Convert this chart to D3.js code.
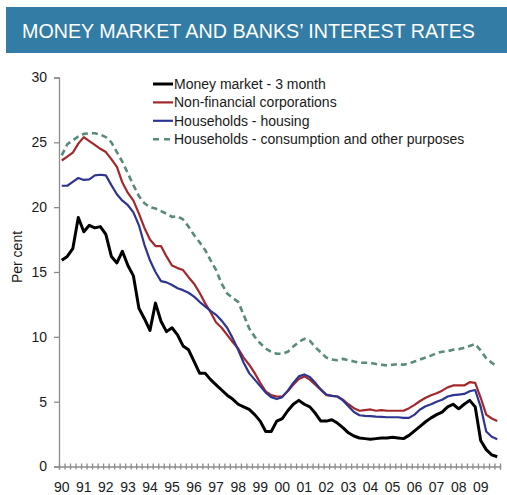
<!DOCTYPE html>
<html>
<head>
<meta charset="utf-8">
<script src="https://cdn.jsdelivr.net/npm/d3@7/dist/d3.min.js"></script>
<style>
  html, body { margin: 0; padding: 0; background: #fff; }
  svg { display: block; font-family: "Liberation Sans", Arial, sans-serif; }
</style>
</head>
<body>
<svg id="chart" width="507" height="495"></svg>
<script>
// Quarterly interest rates, 1990 Q1 – 2009 Q4 (per cent)
const yearLabels = ["90","91","92","93","94","95","96","97","98","99",
                    "00","01","02","03","04","05","06","07","08","09"];
const quarters = yearLabels.flatMap(y => ["Q1","Q2","Q3","Q4"].map(q => y + q));

const moneyMarket = [
  15.9, 16.2, 16.8, 19.2, 18.1, 18.6, 18.4, 18.5, 17.9, 16.2,
  15.7, 16.6, 15.5, 14.7, 12.2, 11.4, 10.5, 12.6, 11.2, 10.4,
  10.7, 10.15, 9.3, 9.0, 8.1, 7.2, 7.2, 6.7, 6.3, 5.9,
  5.5, 5.2, 4.8, 4.6, 4.4, 4.0, 3.5, 2.7, 2.7, 3.5,
  3.7, 4.3, 4.8, 5.1, 4.8, 4.6, 4.1, 3.5, 3.5, 3.6,
  3.35, 3.0, 2.6, 2.35, 2.2, 2.15, 2.1, 2.15, 2.2, 2.2,
  2.25, 2.2, 2.15, 2.4, 2.75, 3.1, 3.45, 3.75, 4.0, 4.2,
  4.6, 4.8, 4.45, 4.8, 5.1, 4.6, 2.0, 1.3, 0.9, 0.75
];
const nonFinancial = [
  23.6, 23.9, 24.2, 24.9, 25.4, 25.1, 24.8, 24.5, 24.25, 23.7,
  23.1, 21.9, 21.1, 20.5, 19.5, 18.4, 17.5, 17.0, 17.0, 16.2,
  15.5, 15.3, 15.15, 14.6, 14.1, 13.4, 12.6, 11.9, 11.1, 10.7,
  10.15, 9.6, 9.1, 8.4, 7.85, 7.2, 6.45, 5.8, 5.5, 5.4,
  5.4, 5.8, 6.3, 6.75, 6.95, 6.7, 6.3, 5.9, 5.5, 5.45,
  5.4, 5.15, 4.8, 4.5, 4.3, 4.35, 4.4, 4.3, 4.35, 4.3,
  4.3, 4.3, 4.3, 4.5, 4.75, 5.05, 5.3, 5.5, 5.65, 5.85,
  6.1, 6.25, 6.25, 6.25, 6.5, 6.45, 5.3, 4.0, 3.7, 3.5
];
const housing = [
  21.65, 21.65, 21.95, 22.25, 22.1, 22.15, 22.45, 22.5, 22.45, 21.7,
  21.0, 20.5, 20.15, 19.6, 18.6, 17.1, 15.9, 15.0, 14.3, 14.2,
  14.0, 13.75, 13.6, 13.4, 13.1, 12.7, 12.35, 12.0, 11.7, 11.25,
  10.7, 9.9, 9.0, 8.0, 7.2, 6.7, 6.2, 5.7, 5.35, 5.2,
  5.35, 5.85, 6.45, 6.95, 7.1, 6.9, 6.45, 5.95, 5.55, 5.45,
  5.4, 5.1, 4.65, 4.2, 3.95, 3.9, 3.88, 3.85, 3.83, 3.8,
  3.8, 3.8, 3.75, 3.75, 4.0, 4.4, 4.65, 4.8, 5.0, 5.15,
  5.4, 5.5, 5.55, 5.6, 5.8, 5.9, 4.6, 2.7, 2.3, 2.1
];
const consumption = [
  24.0, 24.85, 25.15, 25.45, 25.65, 25.7, 25.7, 25.6, 25.4, 25.0,
  24.25, 23.5, 22.6, 21.7, 20.85, 20.3, 20.0, 19.9, 19.7, 19.5,
  19.25, 19.3, 19.05, 18.5, 17.85, 17.3, 16.7, 15.9, 15.15, 14.1,
  13.35, 13.0, 12.7, 11.7, 10.65, 10.0, 9.5, 9.1, 8.85, 8.7,
  8.7, 8.85, 9.25, 9.6, 9.85, 9.7, 9.2, 8.8, 8.4, 8.25,
  8.2, 8.3, 8.2, 8.1, 8.0, 8.0, 8.0, 7.9, 7.85, 7.8,
  7.85, 7.9, 7.85, 7.95, 8.1, 8.25, 8.4, 8.55, 8.75, 8.85,
  8.9, 9.0, 9.05, 9.15, 9.3, 9.45, 8.95, 8.35, 8.0, 7.7
];
const yTicks = [0, 5, 10, 15, 20, 25, 30];

const seriesNames = [
  "Money market - 3 month",
  "Non-financial corporations",
  "Households - housing",
  "Households - consumption and other purposes"
];
const seriesValues = [moneyMarket, nonFinancial, housing, consumption];
const seriesColors = ["#000000", "#a3282b", "#2e3590", "#5a8a7a"];
const seriesWidths = [3, 2.2, 2.2, 2.6];
const seriesDash = [null, null, null, "6,4"];

const svg = d3.select("#chart");

// Title banner
svg.append("rect")
  .attr("x", 6).attr("y", 7).attr("width", 501).attr("height", 46)
  .attr("fill", "#337ca5");
svg.append("text")
  .attr("x", 22).attr("y", 38)
  .attr("fill", "#fff")
  .attr("font-size", 19.7)
  .text("MONEY MARKET AND BANKS\u2019 INTEREST RATES");

// Scales
const x = d3.scaleBand().domain(quarters).range([59, 500]).paddingInner(0).paddingOuter(0);
const y = d3.scaleLinear().domain([0, 30]).range([466.5, 77.5]);
const axisColor = "#8c8c8c";
const textColor = "#1a1a1a";

// Y axis
const yAxis = svg.append("g")
  .attr("transform", "translate(59,0)")
  .call(d3.axisLeft(y).tickValues(yTicks).tickSize(5).tickPadding(7).tickFormat(d3.format("d")));
yAxis.select(".domain").attr("stroke", axisColor).attr("stroke-width", 1.3);
yAxis.selectAll(".tick line").attr("stroke", axisColor).attr("stroke-width", 1.3);
yAxis.selectAll(".tick text").attr("fill", textColor).attr("font-size", 14)
  .attr("font-family", "Liberation Sans, Arial, sans-serif");

svg.append("text")
  .attr("transform", "translate(22,257) rotate(-90)")
  .attr("text-anchor", "middle")
  .attr("fill", textColor)
  .attr("font-size", 14)
  .text("Per cent");

// X axis: category-boundary ticks crossing the axis line, year labels on Q1
const xb = d3.scaleLinear().domain([0, quarters.length]).range(x.range());
const xAxis = svg.append("g")
  .attr("transform", `translate(0,${y(0)})`)
  .call(d3.axisBottom(xb).tickValues(d3.range(0, quarters.length + 1)).tickSize(3).tickFormat(""));
xAxis.select(".domain").attr("stroke", axisColor).attr("stroke-width", 1.3);
xAxis.selectAll(".tick line").attr("stroke", axisColor).attr("stroke-width", 1.3).attr("y1", -3).attr("y2", 3);

const xLabels = svg.append("g")
  .attr("transform", `translate(0,${y(0)})`)
  .call(d3.axisBottom(x)
    .tickValues(quarters.filter(q => q.endsWith("Q1")))
    .tickSize(0).tickPadding(16)
    .tickFormat(q => q.slice(0, 2)));
xLabels.select(".domain").remove();
xLabels.selectAll(".tick text").attr("fill", textColor).attr("font-size", 14)
  .attr("font-family", "Liberation Sans, Arial, sans-serif");

// Lines
const line = d3.line()
  .x((d, i) => x(quarters[i]) + x.bandwidth() / 2)
  .y(d => y(d));

// Draw consumption first so the solid lines sit above it
[3, 1, 2, 0].forEach(k => {
  svg.append("path")
    .datum(seriesValues[k])
    .attr("fill", "none")
    .attr("stroke", seriesColors[k])
    .attr("stroke-width", seriesWidths[k])
    .attr("stroke-linejoin", "round")
    .attr("stroke-dasharray", seriesDash[k])
    .attr("d", line);
});

// Legend
const legend = svg.append("g").attr("transform", "translate(153,84)");
seriesNames.forEach((name, k) => {
  const row = legend.append("g").attr("transform", `translate(0,${k * 18.4})`);
  row.append("line")
    .attr("x1", 0).attr("x2", 20).attr("y1", 0).attr("y2", 0)
    .attr("stroke", seriesColors[k])
    .attr("stroke-width", seriesWidths[k])
    .attr("stroke-dasharray", seriesDash[k] ? "6,5" : null);
  row.append("text")
    .attr("x", 21).attr("y", 5)
    .attr("fill", textColor)
    .attr("font-size", 14)
    .text(name);
});
</script>
</body>
</html>
